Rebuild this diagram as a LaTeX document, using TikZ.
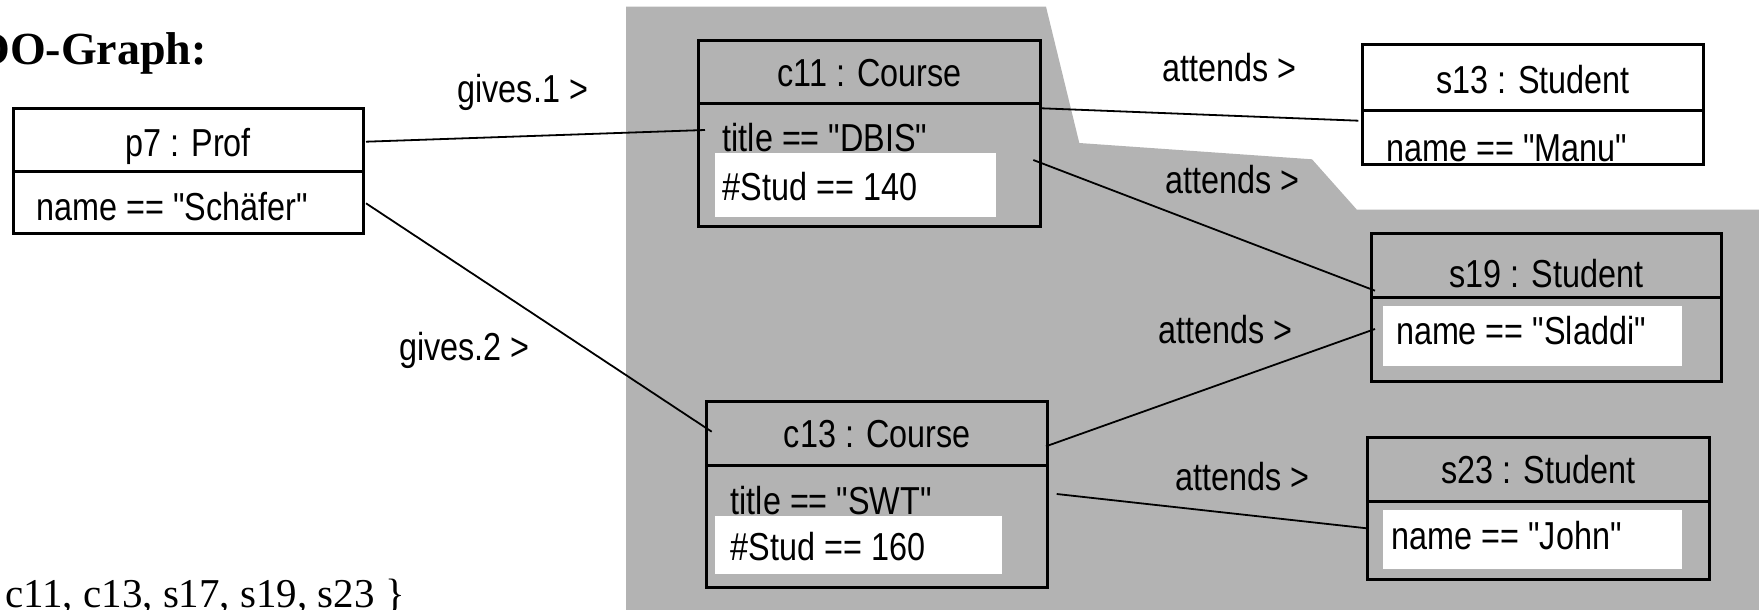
\documentclass[tikz,border=0pt]{standalone}
\usepackage{fontspec}
\setmainfont{Liberation Serif}
\newfontfamily\umlfont[FakeStretch=0.83]{Liberation Sans}
\usetikzlibrary{fit}
\definecolor{panel}{RGB}{179,179,179}
\tikzset{
  objbox/.style={draw, line width=3pt, inner sep=0pt, outer sep=0pt},
  part/.style={line width=3pt},
  link/.style={line width=1.8pt},
  umltext/.style={font=\umlfont\fontsize{39}{45}\selectfont, inner sep=0pt, outer sep=0pt},
  slot/.style={fill=white, inner sep=0pt, outer sep=0pt},
}
\begin{document}
\begin{tikzpicture}[x=1pt, y=-1pt]
\useasboundingbox (0,0) rectangle (1759,610);

% shaded region of the result graph
\fill[panel] (626,6.7) -- (1046,6.7) -- (1079.3,143) -- (1312,159.3)
  -- (1356.7,209.5) -- (1759,209.5) -- (1759,610) -- (626,610) -- cycle;

% headings
\node[anchor=base east, inner sep=0pt, font=\fontsize{46}{52}\selectfont\bfseries] (ttl) at (207,65) {OO-Graph:};
\node[anchor=base west, inner sep=0pt, font=\fontsize{41}{47}\selectfont] (set) at (5,607) {c11, c13, s17, s19, s23 \}};

% object boxes
\node[objbox, fit={(13.3,108.3) (363.3,233.3)}] (p7) {};
\node[objbox, fit={(698.3,40.7) (1040.7,226)}] (c11) {};
\node[objbox, fit={(706.7,401.7) (1047.7,587.3)}] (c13) {};
\node[objbox, fit={(1362.7,45) (1703.3,164.3)}] (s13) {};
\node[objbox, fit={(1371.7,233.3) (1721,381.7)}] (s19) {};
\node[objbox, fit={(1367.7,437.7) (1709.3,579)}] (s23) {};

% compartment dividers
\draw[part] (p7.west |- 0,171.7) -- (p7.east |- 0,171.7);
\draw[part] (c11.west |- 0,103.3) -- (c11.east |- 0,103.3);
\draw[part] (c13.west |- 0,465.3) -- (c13.east |- 0,465.3);
\draw[part] (s13.west |- 0,110) -- (s13.east |- 0,110);
\draw[part] (s19.west |- 0,297.7) -- (s19.east |- 0,297.7);
\draw[part] (s23.west |- 0,501) -- (s23.east |- 0,501);

% object names
\node[umltext, anchor=base] (p7h) at (188.3,156) {p7 : Prof};
\node[umltext, anchor=base] (c11h) at (869.5,86) {c11 : Course};
\node[umltext, anchor=base] (c13h) at (877.2,447.3) {c13 : Course};
\node[umltext, anchor=base] (s13h) at (1533,93.3) {s13 : Student};
\node[umltext, anchor=base] (s19h) at (1546.3,287) {s19 : Student};
\node[umltext, anchor=base] (s23h) at (1538.5,483.3) {s23 : Student};

% attribute conditions
\node[umltext, anchor=base west] (p7a) at (36.7,220) {name == "Schäfer"};
\node[umltext, anchor=base west] (c11a) at (722.7,151.5) {title == "DBIS"};
\node[umltext, anchor=base west] (c13a) at (730.7,514) {title == "SWT"};
\node[umltext, anchor=base west] (s13a) at (1386.7,161.7) {name == "Manu"};

% highlighted slots
\node[slot, fit={(715,152.7) (996,217.3)}] (c11s) {};
\node[slot, fit={(715,516) (1001.7,574.3)}] (c13s) {};
\node[slot, fit={(1383.3,306) (1681.7,365.7)}] (s19s) {};
\node[slot, fit={(1383.3,510) (1681.7,569.3)}] (s23s) {};
\node[umltext, anchor=base west] (c11b) at (722.7,200.5) {\#Stud == 140};
\node[umltext, anchor=base west] (c13b) at (730.7,560.7) {\#Stud == 160};
\node[umltext, anchor=base west] (s19a) at (1396,344) {name == "Sladdi"};
\node[umltext, anchor=base west] (s23a) at (1391.7,549.3) {name == "John"};

% link end points
\coordinate (g1a) at (366,141.7);   \coordinate (g1b) at (705,130);
\coordinate (g2a) at (366,203.3);   \coordinate (g2b) at (711.7,431.7);
\coordinate (t1a) at (1041.7,108.3); \coordinate (t1b) at (1358.3,120.7);
\coordinate (t2a) at (1033.3,160);  \coordinate (t2b) at (1375,290.7);
\coordinate (t3a) at (1046,446.3);  \coordinate (t3b) at (1375,329);
\coordinate (t4a) at (1056.7,494);  \coordinate (t4b) at (1366.7,528.3);

% links
\draw[link] (g1a) -- (g1b);
\draw[link] (g2a) -- (g2b);
\draw[link] (t1a) -- (t1b);
\draw[link] (t2a) -- (t2b);
\draw[link] (t3a) -- (t3b);
\draw[link] (t4a) -- (t4b);

% link labels
\node[umltext, anchor=base west] (l1) at (457.5,102.7) {gives.1 >};
\node[umltext, anchor=base west] (l2) at (399.4,360) {gives.2 >};
\node[umltext, anchor=base west] (l3) at (1162.5,81.7) {attends >};
\node[umltext, anchor=base west] (l4) at (1165,193.3) {attends >};
\node[umltext, anchor=base west] (l5) at (1158,343.3) {attends >};
\node[umltext, anchor=base west] (l6) at (1175,490) {attends >};
\end{tikzpicture}
\end{document}
